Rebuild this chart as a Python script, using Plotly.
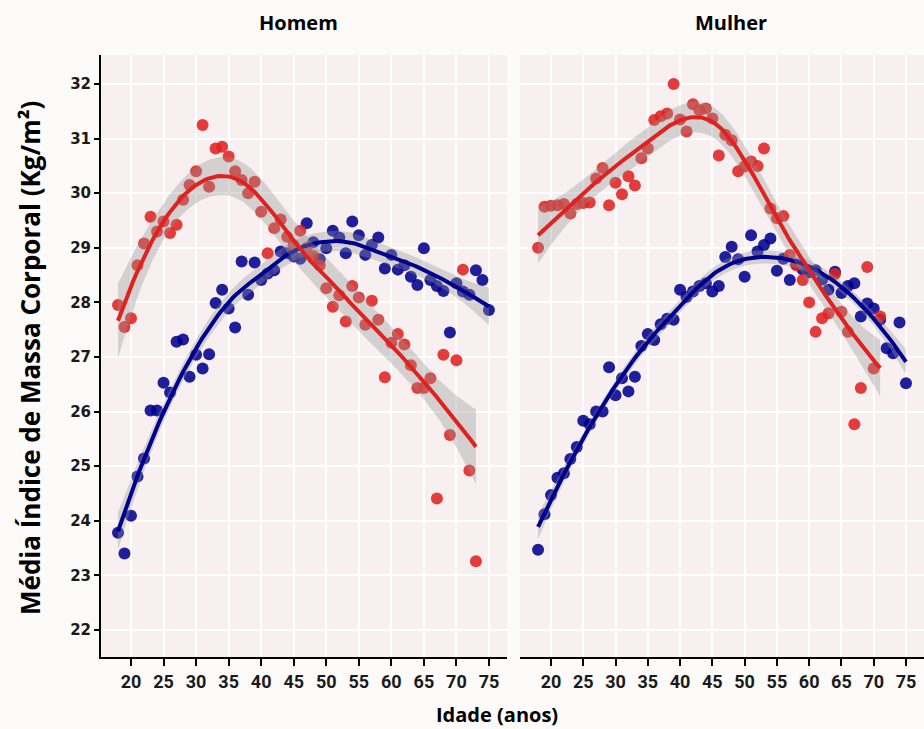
import numpy as np
import plotly.graph_objects as go

# ---------------- data ----------------
idade_homem_vermelho = list(range(18, 74))
imc_homem_vermelho = [27.95, 27.55, 27.71, 28.68, 29.08, 29.57, 29.30, 29.48, 29.27, 29.42,
                      29.88, 30.15, 30.40, 31.25, 30.12, 30.82, 30.85, 30.67, 30.40, 30.24,
                      30.00, 30.21, 29.66, 28.90, 29.36, 29.52, 29.20, 29.05, 29.31, 29.00,
                      28.85, 28.68, 28.26, 27.92, 28.13, 27.65, 28.30, 28.09, 27.59, 28.03,
                      27.68, 26.63, 27.26, 27.42, 27.23, 26.85, 26.43, 26.43, 26.61, 24.41,
                      27.04, 25.57, 26.94, 28.60, 24.92, 23.26]

idade_homem_azul = list(range(18, 76))
imc_homem_azul = [23.78, 23.40, 24.09, 24.81, 25.14, 26.02, 26.02, 26.53, 26.35, 27.28,
                  27.32, 26.64, 27.04, 26.79, 27.05, 27.99, 28.23, 27.89, 27.54, 28.75,
                  28.14, 28.73, 28.41, 28.53, 28.59, 28.93, 28.90, 28.84, 28.80, 29.45,
                  29.10, 28.79, 28.99, 29.31, 29.19, 28.90, 29.48, 29.23, 28.87, 29.05,
                  29.19, 28.62, 28.87, 28.60, 28.68, 28.47, 28.32, 28.99, 28.41, 28.30,
                  28.21, 27.45, 28.35, 28.20, 28.14, 28.59, 28.41, 27.86]

idade_mulher_vermelho = list(range(18, 72))
imc_mulher_vermelho = [29.00, 29.75, 29.77, 29.78, 29.80, 29.63, 29.80, 29.82, 29.83, 30.27,
                       30.46, 29.78, 30.19, 29.98, 30.31, 30.14, 30.64, 30.82, 31.34, 31.41,
                       31.46, 32.00, 31.35, 31.13, 31.63, 31.52, 31.55, 31.37, 30.69, 31.07,
                       30.97, 30.40, 30.49, 30.58, 30.50, 30.82, 29.72, 29.54, 29.58, 28.87,
                       28.68, 28.41, 28.00, 27.46, 27.71, 27.80, 28.52, 27.83, 27.46, 25.77,
                       26.43, 28.65, 26.79, 27.74]

idade_mulher_azul = list(range(18, 76))
imc_mulher_azul = [23.47, 24.12, 24.47, 24.79, 24.87, 25.13, 25.35, 25.83, 25.77, 26.00,
                   26.00, 26.81, 26.30, 26.61, 26.37, 26.64, 27.20, 27.42, 27.31, 27.60,
                   27.70, 27.68, 28.23, 28.10, 28.20, 28.30, 28.35, 28.20, 28.30, 28.83,
                   29.02, 28.79, 28.47, 29.23, 28.93, 29.05, 29.17, 28.58, 28.80, 28.41,
                   28.70, 28.60, 28.55, 28.59, 28.42, 28.23, 28.56, 28.17, 28.30, 28.35,
                   27.74, 27.98, 27.89, 27.68, 27.16, 27.07, 27.63, 26.52]

paineis = ["Homem", "Mulher"]
x_ticks = list(range(20, 80, 5))
y_ticks = list(range(22, 33))

COR_VERMELHO = "#df2220"
COR_AZUL = "#00008e"


# ---------------- loess smoother (like ggplot geom_smooth) ----------------
def loess(x, y, xs, span=0.75):
    x = np.asarray(x, float)
    y = np.asarray(y, float)
    n = len(x)
    q = int(np.floor(n * span))

    def row(x0):
        d = np.abs(x - x0)
        h = np.sort(d)[q - 1]
        w = np.clip(1 - (d / h) ** 3, 0, None) ** 3
        X = np.vstack([np.ones(n), x - x0, (x - x0) ** 2]).T
        XtW = X.T * w
        return np.linalg.solve(XtW @ X, XtW)[0]

    L = np.array([row(v) for v in x])
    res = y - L @ y
    M = (np.eye(n) - L).T @ (np.eye(n) - L)
    d1 = np.trace(M)
    d2 = np.trace(M @ M)
    sigma = np.sqrt(res @ res / d1)
    df = d1 ** 2 / d2
    Ls = np.array([row(v) for v in xs])
    fit = Ls @ y
    se = sigma * np.sqrt((Ls ** 2).sum(1))
    t = 1.96 + 2.4 / df
    return fit, fit - t * se, fit + t * se


fig = go.Figure()

series = [
    ("x", "y", idade_homem_azul, imc_homem_azul, COR_AZUL),
    ("x", "y", idade_homem_vermelho, imc_homem_vermelho, COR_VERMELHO),
    ("x2", "y2", idade_mulher_azul, imc_mulher_azul, COR_AZUL),
    ("x2", "y2", idade_mulher_vermelho, imc_mulher_vermelho, COR_VERMELHO),
]

# points
for xa, ya, xv, yv, cor in series:
    fig.add_trace(go.Scatter(x=xv, y=yv, mode="markers", xaxis=xa, yaxis=ya,
                             marker=dict(size=12, color=cor, opacity=0.88, line=dict(width=0)),
                             showlegend=False, hoverinfo="skip"))

# smooth: ribbon + line
for xa, ya, xv, yv, cor in series:
    xs = np.linspace(min(xv), max(xv), 120)
    fit, lo, hi = loess(xv, yv, xs)
    fig.add_trace(go.Scatter(x=np.concatenate([xs, xs[::-1]]),
                             y=np.concatenate([hi, lo[::-1]]),
                             fill="toself", fillcolor="rgba(150,150,150,0.35)",
                             line=dict(width=0), mode="lines", xaxis=xa, yaxis=ya,
                             showlegend=False, hoverinfo="skip"))
    fig.add_trace(go.Scatter(x=xs, y=fit, mode="lines", xaxis=xa, yaxis=ya,
                             line=dict(color=cor, width=4), showlegend=False,
                             hoverinfo="skip"))

TICK_X_FONT = dict(family="Roboto, sans-serif", size=18, color="#1a1a1a", weight="bold")
TICK_Y_FONT = dict(family="DejaVu Sans, Liberation Sans, sans-serif", size=15,
                   color="#1a1a1a", weight="bold")

common_x = dict(tickmode="array", tickvals=x_ticks, showgrid=True, gridcolor="white",
                gridwidth=1.6, showline=True, linecolor="black", linewidth=2,
                ticks="outside", ticklen=7, tickwidth=1.5, tickcolor="black",
                tickfont=TICK_X_FONT, zeroline=False)

fig.update_layout(
    width=924, height=729,
    paper_bgcolor="#fdfafa", plot_bgcolor="#f8f0f0",
    margin=dict(l=101, r=0, t=55, b=72),
    xaxis=dict(domain=[0, 0.4933], range=[15.39, 77.77], anchor="y", **common_x),
    xaxis2=dict(domain=[0.5091, 1], range=[15.2, 77.79], anchor="y2", **common_x),
    yaxis=dict(domain=[0, 1], range=[21.505, 32.531], anchor="x", tickmode="array",
               tickvals=y_ticks, showgrid=True, gridcolor="white", gridwidth=1.6,
               showline=True, linecolor="black", linewidth=2, ticks="outside",
               ticklen=5, tickwidth=1.5, tickcolor="black", tickfont=TICK_Y_FONT,
               zeroline=False),
    yaxis2=dict(domain=[0, 1], range=[21.505, 32.531], anchor="x2", tickmode="array",
                tickvals=y_ticks, showgrid=True, gridcolor="white", gridwidth=1.6,
                showline=False, showticklabels=False, ticks="", zeroline=False),
    annotations=[
        dict(text="<b>" + paineis[0] + "</b>", x=0.2394, y=1.0548, xref="paper",
             yref="paper", showarrow=False, xanchor="center", yanchor="middle",
             font=dict(family="Open Sans", size=20, color="black")),
        dict(text="<b>" + paineis[1] + "</b>", x=0.7655, y=1.0548, xref="paper",
             yref="paper", showarrow=False, xanchor="center", yanchor="middle",
             font=dict(family="Open Sans", size=20, color="black")),
        dict(text="<b>Média Índice de Massa Corporal (Kg/m²)</b>", x=-0.0863, y=0.4967,
             xref="paper", yref="paper", showarrow=False, textangle=-90,
             xanchor="center", yanchor="middle",
             font=dict(family="Open Sans", size=26, color="black")),
        dict(text="<b>Idade (anos)</b>", x=0.4812, y=-0.0947, xref="paper",
             yref="paper", showarrow=False, xanchor="center", yanchor="middle",
             font=dict(family="Open Sans", size=20, color="black")),
    ],
)

fig.write_html("out.html")
